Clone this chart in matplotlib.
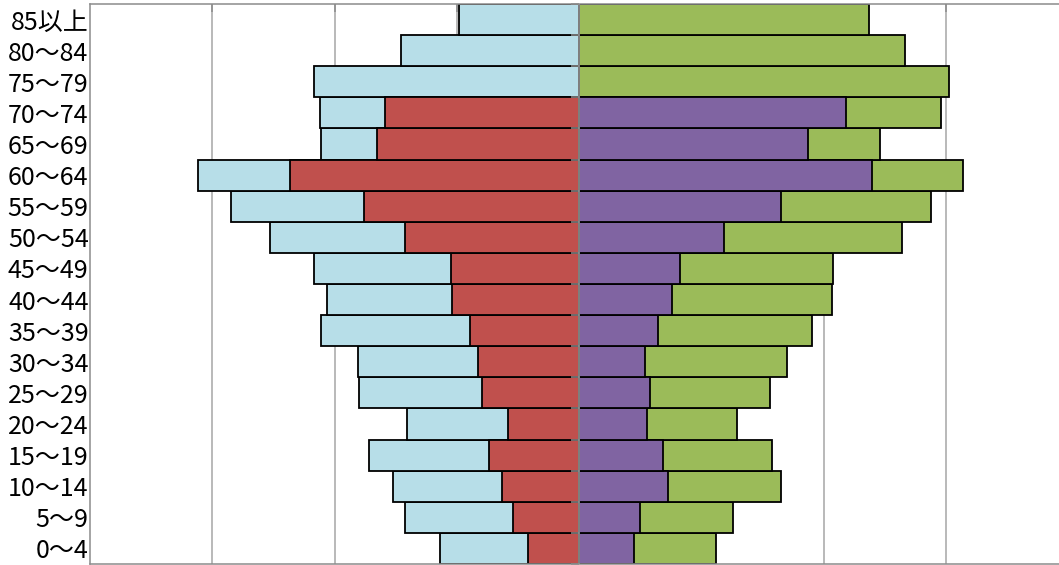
import numpy as np
import matplotlib
matplotlib.use("Agg")
import matplotlib.pyplot as plt

plt.rcParams['font.family'] = ['Noto Sans CJK JP', 'DejaVu Sans']

# Age groups, youngest at the bottom
age_groups = ['0～4', '5～9', '10～14', '15～19', '20～24', '25～29', '30～34',
              '35～39', '40～44', '45～49', '50～54', '55～59', '60～64',
              '65～69', '70～74', '75～79', '80～84', '85以上']

# Left side (men): full bar and inner part
male_total = [114, 142, 152, 172, 141, 180, 181, 211, 206, 217, 253, 285,
              312, 211, 212, 217, 146, 98]
male_inner = [42, 54, 63, 74, 58, 79, 83, 89, 104, 105, 142, 176,
              236, 165, 159, 0, 0, 0]

# Right side (women): inner part and full bar
female_inner = [45, 50, 73, 69, 56, 58, 54, 65, 76, 83, 119, 165,
                240, 187, 218, 0, 0, 0]
female_total = [112, 126, 165, 158, 129, 156, 170, 191, 207, 208, 264, 288,
                314, 246, 296, 303, 267, 237]

BLUE = '#B7DEE8'
RED = '#C0504D'
PURPLE = '#8064A2'
GREEN = '#9BBB59'
GRAY = '#8c8c8c'

W, H = 1059, 565
fig = plt.figure(figsize=(W / 100, H / 100), dpi=100)
ax = fig.add_axes([90 / W, 1 / H, 978 / W, 560 / H])

y = np.arange(len(age_groups))
edge = dict(edgecolor='black', linewidth=1.3, height=1.0, zorder=2)

mt = np.array(male_total, float)
mi = np.array(male_inner, float)
fi = np.array(female_inner, float)
ft = np.array(female_total, float)

# Outer (full) bars
ax.barh(y, -mt, color=BLUE, **edge)
ax.barh(y, ft, color=GREEN, **edge)
# Inner bars drawn on top, only where present
m = mi > 0
ax.barh(y[m], -mi[m], color=RED, **edge)
f = fi > 0
ax.barh(y[f], fi[f], color=PURPLE, **edge)

ax.set_xlim(-400, 400)
ax.set_ylim(-0.5, len(age_groups) - 0.5)

# Vertical gridlines behind the bars
for gx in (-300, -200, -100, 100, 200, 300):
    ax.axvline(gx, color='#a6a6a6', lw=1.1, zorder=0.5)

# Central axis with small ticks at the group boundaries
ax.axvline(0, color=GRAY, lw=1.3, zorder=4)
bounds = np.arange(len(age_groups) + 1) - 0.5
ax.plot(np.zeros_like(bounds), bounds, ls='none', marker=0, ms=6,
        mec=GRAY, mew=1.1, zorder=5, clip_on=False)

ax.set_yticks(y)
ax.set_yticklabels(age_groups, fontsize=18)
ax.tick_params(axis='y', length=0, pad=1)

ax.set_xticks([-300, -200, -100, 0, 100, 200, 300])
ax.tick_params(axis='x', top=True, bottom=False, direction='in', length=6,
               width=1.1, color=GRAY, labelbottom=False, labeltop=False)

for s in ax.spines.values():
    s.set_color(GRAY)
    s.set_linewidth(1.1)

fig.savefig('out.png', dpi=100)
